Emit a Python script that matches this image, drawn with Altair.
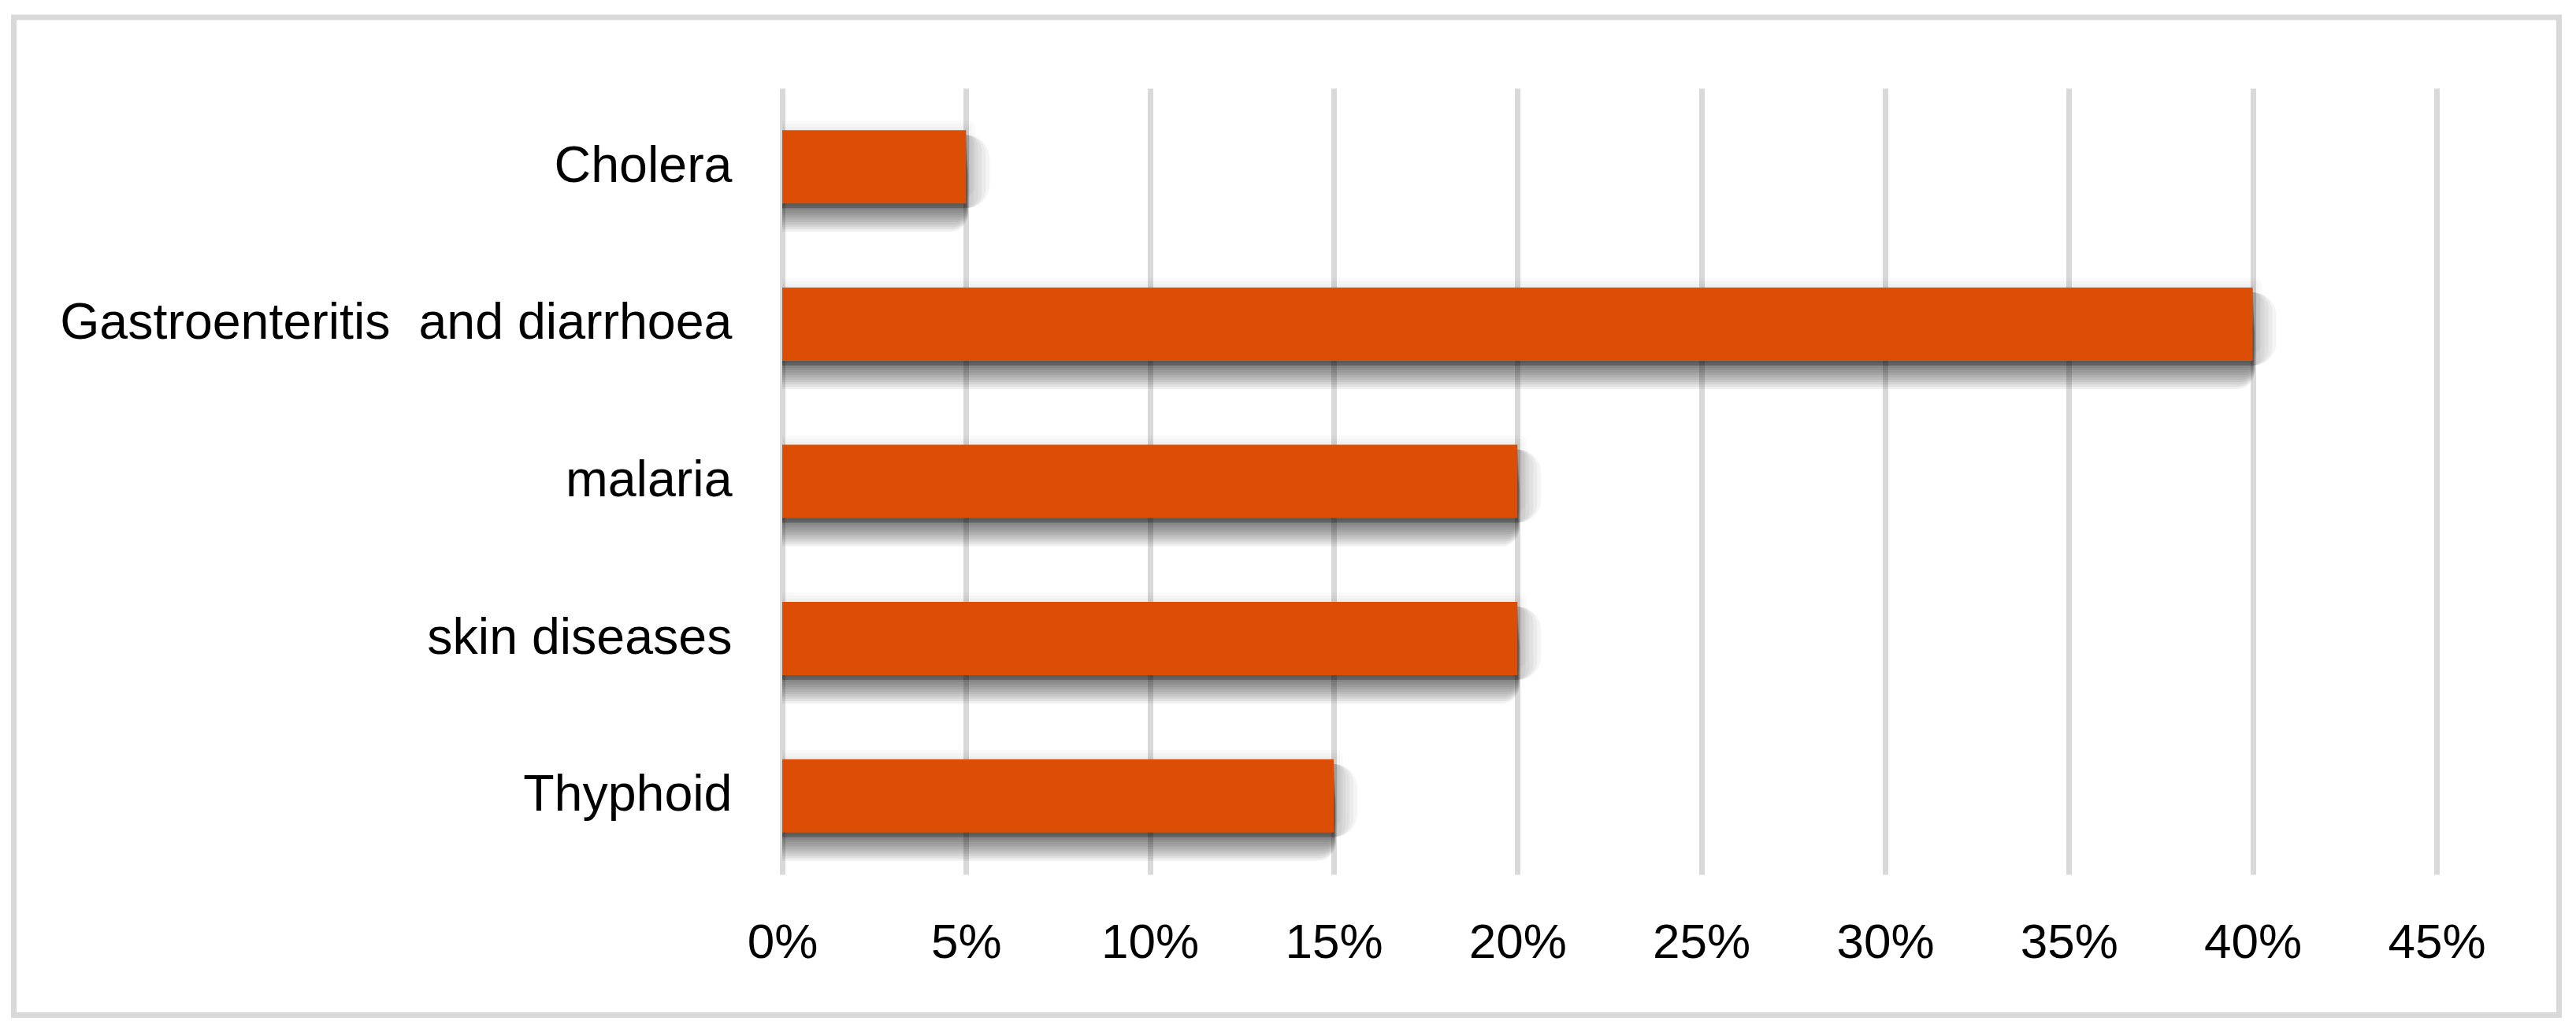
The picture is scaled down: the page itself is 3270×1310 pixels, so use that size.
import altair as alt
import pandas as pd

categories = ["Cholera", "Gastroenteritis\u00a0 and diarrhoea", "malaria", "skin diseases", "Thyphoid"]
values = [0.05, 0.40, 0.20, 0.20, 0.15]
x_ticks = [0, 0.05, 0.10, 0.15, 0.20, 0.25, 0.30, 0.35, 0.40, 0.45]

df = pd.DataFrame({"disease": categories, "share": values})

FONT = "Liberation Sans"
BAR = "#DC4E05"
GRID = "#d9d9d9"
X_MAX = 0.45
PLOT_W = 2100
PX = X_MAX / PLOT_W  # one pixel in data units, for the shadow spread

x_scale = alt.Scale(domain=[0, X_MAX], nice=False, zero=True)
x_axis = alt.Axis(values=x_ticks, format=".0%", grid=True, gridColor=GRID, gridWidth=7,
                  domain=False, ticks=False, tickSize=0, labelFontSize=62, labelFont=FONT,
                  labelColor="#000000", labelPadding=56, labelFlush=False, title=None)
y_enc = alt.Y(
    "disease:N",
    sort=categories,
    scale=alt.Scale(paddingInner=0.534, paddingOuter=0.267),
    axis=alt.Axis(domain=False, ticks=False, tickSize=0, grid=False, labelFontSize=64.5,
                  labelFont=FONT, labelColor="#000000", labelPadding=64, title=None,
                  labelLimit=2000),
)

border = alt.Chart(pd.DataFrame({"a": [0]})).mark_rect(
    fillOpacity=0, stroke=GRID, strokeWidth=7
).encode(
    x=alt.value(-975.5), x2=alt.value(2255.5), y=alt.value(-90), y2=alt.value(1176.5)
)


def shadow_layer(dy, dx, opacity, radius):
    return alt.Chart(df).transform_calculate(
        s_start="0", s_end=f"datum.share + {dx * PX}"
    ).mark_bar(
        color="black", fillOpacity=opacity, yOffset=dy,
        cornerRadiusTopRight=radius, cornerRadiusBottomRight=radius, clip=True
    ).encode(
        x=alt.X("s_end:Q", scale=x_scale, axis=x_axis), x2="s_start:Q", y=y_enc
    )


# soft drop shadow: stacked translucent copies of the bars, shifted down and widened
shadows = [shadow_layer(-4 * j, 4 * j, 0.02, 3 * j) for j in range(1, 4)]
shadows += [shadow_layer(6, 5 * k, 0.04, 5 * k) for k in range(1, 7)]
shadows += [shadow_layer(3 * j, 0.25 * j, 0.06, 2 * j) for j in range(1, 13)]

bars = alt.Chart(df).mark_bar(color=BAR).encode(
    x=alt.X("share:Q", scale=x_scale, axis=x_axis), y=y_enc
)

chart = alt.layer(border, *shadows, bars).properties(
    width=PLOT_W,
    height=998,
    padding={"left": 985, "top": 104, "right": 160, "bottom": 188},
    autosize=alt.AutoSizeParams(type="none"),
).configure_view(stroke=None)

chart.save("out.html", embed_options={"renderer": "svg", "actions": False})
